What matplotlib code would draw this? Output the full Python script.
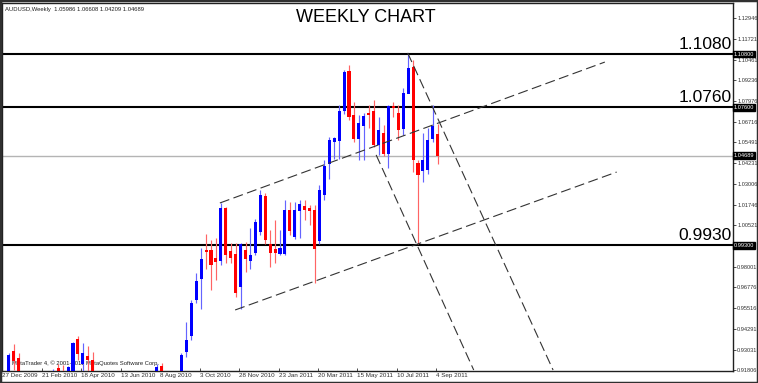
import numpy as np
import matplotlib.pyplot as plt
from matplotlib.transforms import blended_transform_factory
from matplotlib.patches import Rectangle

plt.rcParams['font.family'] = ['Liberation Sans', 'DejaVu Sans']

# weekly AUDUSD candles, bar 0 = week of 27 Dec 2009
opens = [0.8860, 0.8975, 0.9291, 0.9253, 0.9020, 0.8900, 0.8710, 0.8800, 0.9000, 0.8990,
         0.9060, 0.9193, 0.9160, 0.9090, 0.9170, 0.9366, 0.9217, 0.9261, 0.9237, 0.8960,
         0.8870, 0.8430, 0.8420, 0.8250, 0.8440, 0.8730, 0.8780, 0.8500, 0.8730, 0.8690,
         0.8890, 0.9040, 0.9205, 0.8950, 0.8930, 0.8880, 0.9060, 0.9291, 0.9387, 0.9602,
         0.9732, 0.9902, 0.9902, 0.9853, 0.9840, 1.0153, 0.9892, 0.9878, 0.9682, 0.9902,
         0.9838, 0.9886, 1.0012, 1.0223, 0.9939, 0.9907, 0.9883, 0.9883, 1.0143, 0.9983,
         1.0139, 1.0163, 1.0153, 1.0139, 0.9958, 1.0233, 1.0419, 1.0553, 1.0559, 1.0740,
         1.0974, 1.0714, 1.0570, 1.0650, 1.0724, 1.0734, 1.0534, 1.0604, 1.0483, 1.0766,
         1.0724, 1.0634, 1.0844, 1.0998, 1.0424, 1.0377, 1.0383, 1.0574, 1.05986]
highs = [0.8990, 0.9283, 0.9336, 0.9285, 0.9060, 0.8950, 0.8820, 0.9040, 0.9040, 0.9070,
         0.9190, 0.9217, 0.9212, 0.9205, 0.9351, 0.9386, 0.9345, 0.9326, 0.9291, 0.9070,
         0.8890, 0.8540, 0.8520, 0.8470, 0.8760, 0.8840, 0.8800, 0.8750, 0.8890, 0.8910,
         0.9090, 0.9215, 0.9225, 0.9010, 0.8990, 0.9090, 0.9285, 0.9472, 0.9600, 0.9762,
         0.9913, 0.9997, 0.9962, 0.9972, 1.0183, 1.0163, 0.9943, 0.9943, 0.9943, 0.9952,
         1.0033, 1.0090, 1.0263, 1.0243, 1.0023, 1.0083, 1.0023, 1.0203, 1.0193, 1.0193,
         1.0203, 1.0203, 1.0173, 1.0173, 1.0293, 1.0443, 1.0583, 1.0583, 1.0774, 1.0986,
         1.1014, 1.0790, 1.0714, 1.0724, 1.0774, 1.0804, 1.0704, 1.0654, 1.0774, 1.0794,
         1.0774, 1.0874, 1.1080, 1.1044, 1.0443, 1.0604, 1.0634, 1.0774, 1.06608]
lows = [0.8840, 0.8930, 0.9180, 0.8990, 0.8870, 0.8580, 0.8660, 0.8750, 0.8860, 0.8900,
        0.9030, 0.9070, 0.9010, 0.9060, 0.9150, 0.9240, 0.9170, 0.9160, 0.8830, 0.8820,
        0.8170, 0.8070, 0.8160, 0.8170, 0.8420, 0.8680, 0.8320, 0.8470, 0.8660, 0.8630,
        0.8850, 0.9000, 0.8900, 0.8880, 0.8770, 0.8800, 0.9010, 0.9260, 0.9362, 0.9582,
        0.9546, 0.9790, 0.9662, 0.9722, 0.9812, 0.9823, 0.9822, 0.9622, 0.9546, 0.9772,
        0.9790, 0.9870, 0.9990, 0.9940, 0.9802, 0.9822, 0.9872, 0.9870, 0.9992, 0.9967,
        0.9972, 1.0083, 1.0050, 0.9702, 0.9940, 1.0200, 1.0330, 1.0447, 1.0447, 1.0720,
        1.0684, 1.0553, 1.0443, 1.0443, 1.0634, 1.0524, 1.0473, 1.0470, 1.0393, 1.0700,
        1.0564, 1.0594, 1.0844, 1.0373, 0.9937, 1.0313, 1.0360, 1.0553, 1.04209]
closes = [0.8975, 0.9267, 0.9237, 0.9020, 0.8900, 0.8710, 0.8800, 0.9000, 0.8990, 0.9060,
          0.9150, 0.9120, 0.9090, 0.9195, 0.9342, 0.9282, 0.9282, 0.9241, 0.8960, 0.8870,
          0.8430, 0.8420, 0.8250, 0.8440, 0.8730, 0.8780, 0.8500, 0.8730, 0.8690, 0.8890,
          0.9040, 0.9200, 0.8950, 0.8930, 0.8880, 0.9060, 0.9271, 0.9362, 0.9582, 0.9716,
          0.9846, 0.9892, 0.9816, 0.9832, 1.0153, 0.9872, 0.9858, 0.9646, 0.9938, 0.9852,
          0.9872, 1.0066, 1.0233, 0.9963, 0.9886, 0.9886, 0.9913, 1.0143, 1.0018, 1.0143,
          1.0179, 1.0143, 1.0139, 0.9913, 1.0263, 1.0408, 1.0563, 1.0573, 1.0733, 1.0968,
          1.0704, 1.0570, 1.0664, 1.0704, 1.0714, 1.0534, 1.0624, 1.0483, 1.0764, 1.0760,
          1.0624, 1.0844, 1.0994, 1.0443, 1.0353, 1.0443, 1.0563, 1.0648, 1.04689]

date_ticks = [0, 8, 16, 24, 32, 40, 48, 56, 64, 72, 80, 88]
date_labels = ['27 Dec 2009', '21 Feb 2010', '18 Apr 2010', '13 Jun 2010', '8 Aug 2010',
               '3 Oct 2010', '28 Nov 2010', '23 Jan 2011', '20 Mar 2011', '15 May 2011',
               '10 Jul 2011', '4 Sep 2011']

price_ticks = [1.12946, 1.11721, 1.10461, 1.09236, 1.07976, 1.06716, 1.05491, 1.04231,
               1.03006, 1.01746, 1.00521, 0.98001, 0.96776, 0.95516, 0.94291, 0.93031, 0.91806]

levels = [1.1080, 1.0760, 0.9930]
level_labels = ['1.1080', '1.0760', '0.9930']
bid = 1.04689

# trend lines: (bar, price) anchor pairs
channel_top = [(43.8, 1.0185), (121.9, 1.1032)]
channel_bottom = [(46.9, 0.9542), (124.3, 1.0371)]
fall_right = [(81.9, 1.1087), (111.4, 0.9181)]
fall_left = [(75.5, 1.0474), (95.3, 0.9181)]

fig = plt.figure(figsize=(7.58, 3.83), dpi=100)
ax = fig.add_axes([2 / 758, 12.3 / 383, 731 / 758, 367.7 / 383])
ax.set_xlim(-0.4, 147.9)
ax.set_ylim(0.9177, 1.1387)

o = np.array(opens)
h = np.array(highs)
l = np.array(lows)
c = np.array(closes)
x = np.arange(len(o))
up = c >= o
cols = np.where(up, '#0000ff', '#ff0000')
wick_cols = np.where(up, '#6464ff', '#ff6464')

ax.vlines(x, l, h, colors=wick_cols, linewidth=0.85, zorder=3)
ax.bar(x, np.abs(c - o) + 0.0004, bottom=np.minimum(o, c) - 0.0002, width=0.62,
       color=cols, linewidth=0, zorder=4)

# horizontal levels
for lv, lab in zip(levels, level_labels):
    ax.axhline(lv, color='black', linewidth=1.5, zorder=2)
    ax.text(147.6, lv + 0.0012, lab, ha='right', va='bottom', fontsize=12.5, color='black')
ax.axhline(bid, color='#b4b4b4', linewidth=1, zorder=1)

for line in [channel_top, channel_bottom, fall_right, fall_left]:
    (x0, y0), (x1, y1) = line
    ax.plot([x0, x1], [y0, y1], color='#333333', linewidth=0.8, dashes=(9, 4), zorder=5)

# right price axis
ax.yaxis.tick_right()
ax.set_yticks(price_ticks)
ax.set_yticklabels(['%.5f' % p for p in price_ticks])
ax.tick_params(axis='y', length=2, width=0.6, pad=1, labelsize=4.1, colors='#303030')
ax.set_xticks([t - 0.3 for t in date_ticks])
ax.set_xticklabels(date_labels, ha='left')
ax.tick_params(axis='x', length=2, width=0.6, pad=1.5, labelsize=4.5, colors='#303030',
               direction='in')
for lab in ax.get_xticklabels():
    lab.set_horizontalalignment('left')

tr = blended_transform_factory(ax.transAxes, ax.transData)
for lv in levels + [bid]:
    ax.text(1.0012, lv, '%.5f' % lv, transform=tr, ha='left', va='center', fontsize=4.1,
            color='white', bbox=dict(boxstyle='square,pad=0.15', fc='black', ec='black'),
            zorder=6, clip_on=False)

for s in ax.spines.values():
    s.set_color('#202020')
    s.set_linewidth(1)

ax.text(0.004, 0.99, 'AUDUSD,Weekly  1.05986 1.06608 1.04209 1.04689', transform=ax.transAxes,
        ha='left', va='top', fontsize=4.2, color='#202020')
ax.text(0.014, 0.012, 'MetaTrader 4, \u00a9 2001-2011 MetaQuotes Software Corp.',
        transform=ax.transAxes, ha='left', va='bottom', fontsize=4.2, color='#202020', zorder=2)
fig.text(366 / 758, 1 - 18 / 383, 'WEEKLY CHART', ha='center', va='center', fontsize=13,
         color='black')

fig.patches.append(Rectangle((0, 0), 1, 1, transform=fig.transFigure, fill=False,
                             edgecolor='#303030', linewidth=2.5))

fig.savefig('out.png', dpi=100)
